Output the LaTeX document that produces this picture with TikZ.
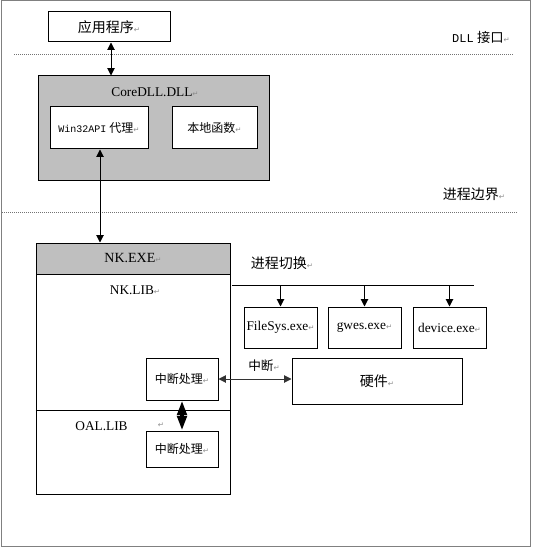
\documentclass[tikz,border=0pt]{standalone}
\usepackage{fontspec}
\setmainfont{Liberation Serif}
\setmonofont{Liberation Mono}
\newfontfamily\cjk{Noto Sans CJK SC}
\newfontfamily\dvs{DejaVu Sans}
\usetikzlibrary{arrows.meta}
\newcommand\rmk{{\dvs\fontsize{5.5}{6}\selectfont\color{black!45}↵}}
\begin{document}
\begin{tikzpicture}[x=0.75pt,y=-0.75pt,
  box/.style={draw=black, fill=white, line width=0.75pt, inner sep=0pt, font=\fontsize{9}{11}\selectfont},
  graybox/.style={box, fill=black!25},
  lbl/.style={inner sep=0pt, font=\fontsize{10}{12}\selectfont},
  conn/.style={line width=0.75pt, {Triangle[length=5.5pt,width=5.5pt]}-{Triangle[length=5.5pt,width=5.5pt]}},
  arr/.style={line width=0.75pt, -{Triangle[length=5.5pt,width=5.5pt]}},
  bigarr/.style={line width=3pt, {Triangle[length=11pt,width=7pt]}-{Triangle[length=11pt,width=7pt]}},
  sep/.style={black!55, line width=0.75pt, dash pattern=on 0.75pt off 0.75pt}
]
\useasboundingbox (0,0) rectangle (534,549);
\draw[black!50, line width=0.75pt] (1,1) rectangle (530,546);

% top: application
\node[box, minimum width=91.5pt, minimum height=22.5pt, font=\fontsize{10.5}{12}\selectfont] (app) at (109,27) {{\cjk 应用程序}\rmk};
\node[lbl] (dll) at (481,37) {{\ttfamily\fontsize{9}{10}\selectfont DLL} {\cjk 接口}\rmk};
\coordinate (d1l) at (14,55);
\coordinate (d1r) at (513,55);
\draw[sep] (d1l) -- (d1r);

% CoreDLL
\node[graybox, minimum width=173.25pt, minimum height=78pt] (core) at (153.5,128) {};
\node[lbl] (corelbl) at (155,92) {CoreDLL.DLL\rmk};
\node[box, minimum width=73.5pt, minimum height=31.5pt] (win) at (99,128) {{\ttfamily\fontsize{7.5}{9}\selectfont Win32API} {\cjk 代理}\rmk};
\node[box, minimum width=63.75pt, minimum height=31.5pt] (loc) at (214.5,128) {{\cjk 本地函数}\rmk};

\coordinate (ax) at (111,0);
\draw[conn] (app.south -| ax) -- (core.north -| ax);

\node[lbl, font=\fontsize{10.5}{12}\selectfont] (pb) at (474,194) {{\cjk 进程边界}\rmk};
\coordinate (d2l) at (2,212);
\coordinate (d2r) at (517,212);
\draw[sep] (d2l) -- (d2r);

% NK
\node[box, minimum width=145.5pt, minimum height=188.25pt] (nk) at (133,368.5) {};
\node[graybox, minimum width=145.5pt, minimum height=23.25pt, font=\fontsize{10.5}{12}\selectfont] (nkexe) at (133,258.5) {NK.EXE\rmk};
\node[lbl] (nklib) at (135,290) {NK.LIB\rmk};
\coordinate (dv) at (0,410);
\draw[line width=0.75pt] (nk.west |- dv) -- (nk.east |- dv);
\node[lbl] (oal) at (101.5,426) {OAL.LIB};
\node[inner sep=0pt] (oalr) at (161,425) {\rmk};

\node[box, minimum width=54pt, minimum height=31.5pt] (int1) at (182,379) {{\cjk 中断处理}\rmk};
\node[box, minimum width=54pt, minimum height=27pt] (int2) at (182,449) {{\cjk 中断处理}\rmk};
\draw[bigarr] (int1.south) -- (int2.north);

\coordinate (bx) at (100,0);
\draw[conn] (win.south -| bx) -- (nkexe.north -| bx);

% process switch
\node[lbl, font=\fontsize{10.5}{12}\selectfont] (ps) at (282,263) {{\cjk 进程切换}\rmk};
\coordinate (busl) at (232,285);
\coordinate (busr) at (474,285);
\draw[line width=0.75pt] (busl) -- (busr);
\node[box, minimum width=54.75pt, minimum height=30.75pt, font=\fontsize{10}{12}\selectfont] (fs) at (280.5,327.5) {FileSys.exe\rmk};
\node[box, minimum width=54.75pt, minimum height=30.75pt, font=\fontsize{10}{12}\selectfont] (gw) at (364.5,327.5) {gwes.exe\rmk};
\node[box, minimum width=54.75pt, minimum height=30.75pt, font=\fontsize{10}{12}\selectfont] (dev) at (449.5,327.5) {device.exe\rmk};
\draw[arr] (fs.north |- busl) -- (fs.north);
\draw[arr] (gw.north |- busl) -- (gw.north);
\draw[arr] (dev.north |- busl) -- (dev.north);

% hardware
\node[box, minimum width=127.5pt, minimum height=34.5pt, font=\fontsize{10.5}{12}\selectfont] (hw) at (377,381) {{\cjk 硬件}\rmk};
\node[lbl, font=\fontsize{9.5}{11}\selectfont] (zd) at (264,366) {{\cjk 中断}\rmk};
\draw[conn, black!80] (int1.east) -- (int1.east -| hw.west);
\end{tikzpicture}
\end{document}
